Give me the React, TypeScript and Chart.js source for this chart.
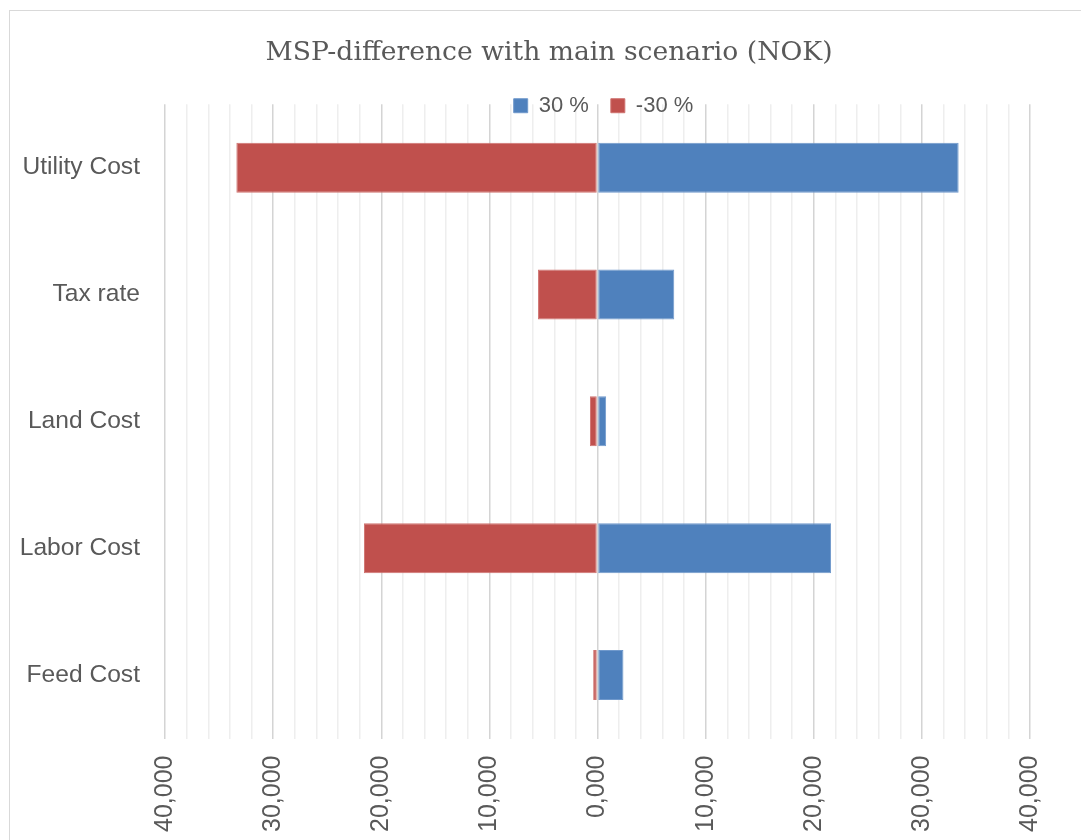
import React, { useEffect, useRef } from "react";
import { Chart, registerables } from "chart.js";

Chart.register(...registerables);

const categories = ["Utility Cost", "Tax rate", "Land Cost", "Labor Cost", "Feed Cost"];
const plus30Values = [33.4, 7.1, 0.8, 21.6, 2.4];
const minus30Values = [-33.4, -5.5, -0.7, -21.6, -0.4];
const seriesLabels = ["30 %", "-30 %"];
const axisMin = -40;
const axisMax = 40;
const minorStep = 2;
const majorStep = 10;

const TEXT = "#595959";
const SANS = "'Liberation Sans', Arial, sans-serif";

const LEGEND_H = 31.5;
const LEGEND_SHIFT = 6;
const TITLE_SHIFT = 29;

const layoutTweak = {
  id: "layoutTweak",
  beforeLayout(chart: any) {
    const lg = chart.legend;
    if (lg && !lg._patched) {
      const orig = lg.fit.bind(lg);
      lg.fit = function () {
        orig();
        this.height = LEGEND_H;
      };
      lg._patched = true;
    }
  },
  afterLayout(chart: any) {
    const lg = chart.legend;
    if (lg) {
      lg.left += LEGEND_SHIFT;
      lg.right += LEGEND_SHIFT;
      lg.bottom += 30;
      lg.height += 30;
    }
    const tb = chart.titleBlock;
    if (tb) {
      tb.left += TITLE_SHIFT;
      tb.right += TITLE_SHIFT;
    }
  },
};

export default function App() {
  const ref = useRef<HTMLCanvasElement | null>(null);

  useEffect(() => {
    if (!ref.current) return;
    const chart = new Chart(ref.current, {
      type: "bar",
      data: {
        labels: categories,
        datasets: [
          {
            label: seriesLabels[0],
            data: plus30Values,
            backgroundColor: "#4F81BD",
            borderColor: "#7099cc",
            borderWidth: 1,
            borderSkipped: false,
          },
          {
            label: seriesLabels[1],
            data: minus30Values,
            backgroundColor: "#C0504D",
            borderColor: "#cf7370",
            borderWidth: 1,
            borderSkipped: false,
          },
        ],
      },
      options: {
        indexAxis: "y",
        responsive: false,
        animation: false,
        datasets: {
          bar: { categoryPercentage: 1, barPercentage: 0.394 },
        },
        layout: { padding: { top: 0, left: 0, right: 58, bottom: 0 } },
        plugins: {
          title: {
            display: true,
            text: "MSP-difference with main scenario (NOK)",
            color: TEXT,
            font: { family: "'DejaVu Serif', serif", size: 26.6, weight: "normal" },
            padding: { top: 26, bottom: 3.8 },
          },
          legend: {
            display: true,
            position: "top",
            fullSize: false,
            labels: {
              boxWidth: 14,
              boxHeight: 14,
              padding: 22,
              color: TEXT,
              font: { family: SANS, size: 22 },
            },
          },
          tooltip: { enabled: false },
        },
        scales: {
          x: {
            type: "linear",
            stacked: true,
            min: axisMin,
            max: axisMax,
            afterFit: (s: any) => {
              s.height = 122.5;
            },
            border: { display: false },
            grid: {
              drawTicks: false,
              lineWidth: 1.5,
              color: (ctx: any) => {
                const v = ctx.tick ? ctx.tick.value : 0;
                return Math.abs(v % majorStep) < 1e-9 ? "#d4d4d4" : "#eeeeee";
              },
            },
            ticks: {
              stepSize: minorStep,
              autoSkip: false,
              maxRotation: 90,
              minRotation: 90,
              padding: 17,
              color: TEXT,
              font: { family: SANS, size: 25 },
              callback: (v: any) => {
                const n = Number(v);
                if (Math.abs(n % majorStep) > 1e-9) return "";
                const s = Math.abs(n).toFixed(3).replace(".", ",");
                return n < 0 ? "- " + s : s;
              },
            },
          },
          y: {
            stacked: true,
            afterFit: (s: any) => {
              s.width = 155;
            },
            border: { display: false },
            grid: { display: false, drawTicks: false },
            ticks: {
              padding: 25,
              color: TEXT,
              font: { family: SANS, size: 24.6 },
            },
          },
        },
      },
      plugins: [layoutTweak],
    } as any);
    return () => chart.destroy();
  }, []);

  return (
    <div
      style={{
        position: "fixed",
        left: 0,
        top: 0,
        width: 1081,
        height: 840,
        overflow: "hidden",
        background: "#fff",
      }}
    >
      <div
        style={{
          position: "absolute",
          left: 9,
          top: 10,
          borderTop: "1px solid #d9d9d9",
          borderLeft: "1px solid #d9d9d9",
        }}
      >
        <canvas ref={ref} width={1078} height={850} style={{ display: "block" }} />
      </div>
    </div>
  );
}
